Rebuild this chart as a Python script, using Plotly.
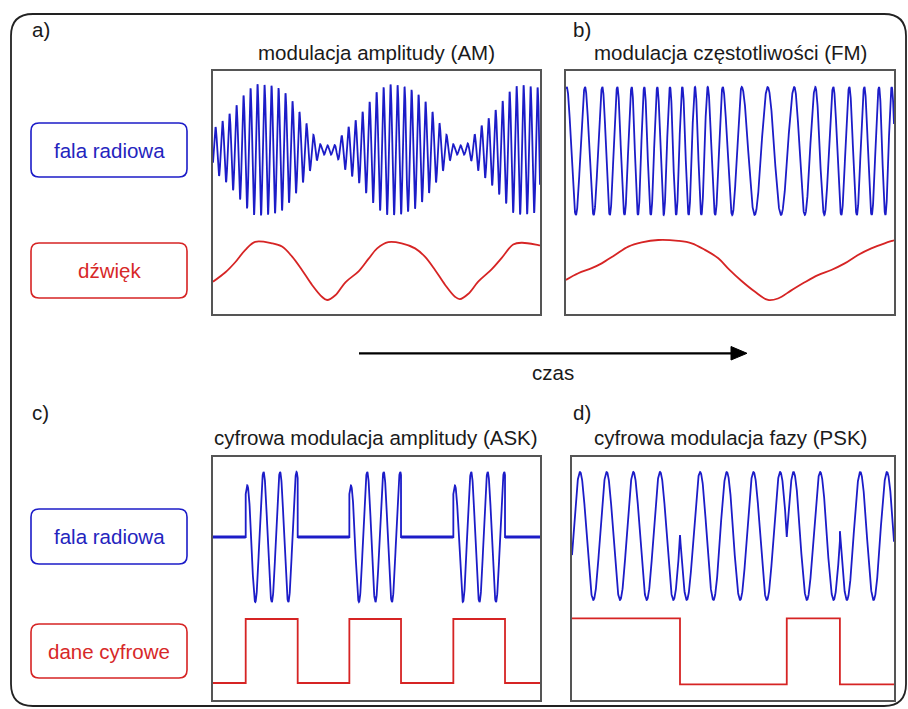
import numpy as np
import plotly.graph_objects as go

W, H = 908, 709

# ---------------- data ----------------
# time runs 0..10 across each panel
# (a) AM: sound (message) samples
am_msg_t = [0.0, 0.38, 0.68, 0.99, 1.29, 1.80, 2.11, 2.42, 2.72, 3.03, 3.33, 3.49,
            3.74, 4.05, 4.46, 4.76, 5.02, 5.36, 5.77, 6.18, 6.48, 6.79, 7.10, 7.40,
            7.55, 7.81, 8.11, 8.52, 8.83, 9.18, 9.44, 9.95, 10.0]
am_msg_v = [-0.38, -0.06, 0.28, 0.70, 0.97, 0.92, 0.81, 0.47, 0.02, -0.49, -0.89, -1.00,
            -0.84, -0.40, -0.02, 0.40, 0.75, 0.96, 0.92, 0.75, 0.47, 0.02, -0.49, -0.89,
            -0.97, -0.79, -0.38, 0.04, 0.43, 0.88, 0.94, 0.86, 0.85]
am_carrier_cycles = 46.7      # carrier cycles across the panel
am_first_peak = 0.076         # time of first carrier peak
am_floor = 0.07               # residual amplitude where the envelope vanishes

# (b) FM: sound samples and the times of the radio-wave peaks
fm_msg_t = [0.0, 0.375, 0.784, 1.088, 1.494, 1.899, 2.308, 2.814, 3.424, 3.832, 4.238,
            4.643, 4.97, 5.345, 5.753, 6.159, 6.463, 6.869, 7.277, 7.683, 8.088, 8.497,
            8.902, 9.308, 9.716, 9.97, 10.0]
fm_msg_v = [-0.33, -0.11, 0.06, 0.22, 0.50, 0.78, 0.92, 1.00, 0.97, 0.89, 0.67, 0.39,
            0.02, -0.36, -0.72, -1.00, -0.95, -0.68, -0.41, -0.17, 0.0, 0.22, 0.50,
            0.72, 0.89, 0.98, 0.99]
fm_peak_t = [0.021, 0.579, 1.107, 1.564, 2.003, 2.387, 2.784, 3.171, 3.546, 3.933,
             4.320, 4.777, 5.357, 6.149, 6.960, 7.601, 8.149, 8.637, 9.095, 9.543, 9.930]

# (c) ASK: bit edges and bit values
ask_edges = [0.0, 1.00, 2.59, 4.17, 5.75, 7.35, 8.93, 10.0]
ask_bits = [0, 1, 0, 1, 0, 1, 0]
ask_period = 0.505
ask_peak_offset = 0.04
ask_first_peak = 0.75

# (d) PSK: bit edges and bit values
psk_edges = [0.0, 3.354, 6.67, 8.32, 10.0]
psk_bits = [1, 0, 1, 0]
psk_period = 0.829
psk_t0 = 0.04

# text
panel_letters = ["a)", "b)", "c)", "d)"]
panel_titles = ["modulacja amplitudy (AM)", "modulacja częstotliwości (FM)",
                "cyfrowa modulacja amplitudy (ASK)", "cyfrowa modulacja fazy (PSK)"]
side_labels = ["fala radiowa", "dźwięk", "fala radiowa", "dane cyfrowe"]
time_label = "czas"

BLUE = "rgb(28,28,200)"
RED = "rgb(214,36,36)"
BLUE_TXT = "rgb(36,36,190)"
RED_TXT = "rgb(215,40,40)"
FONT = "Liberation Sans, Arial, sans-serif"
FS = 20.5

# ---------------- derived waveforms ----------------
# AM
ta = np.linspace(0, 10, 4000)
msg_a = np.interp(ta, am_msg_t, am_msg_v)
env_a = np.maximum(am_floor, (1 + msg_a) / 2)
blue_a = env_a * np.cos(2 * np.pi * am_carrier_cycles / 10 * (ta - am_first_peak))

# FM
pk = list(fm_peak_t)
pk = [pk[0] - (pk[1] - pk[0])] + pk + [pk[-1] + (pk[-1] - pk[-2])]
tb = np.linspace(0, 10, 3000)
phase_b = np.interp(tb, pk, np.arange(len(pk)))
blue_b = np.cos(2 * np.pi * phase_b)

# ASK
tc_list, yc_list = [], []
flat_t, flat_y = [], []
for i, b in enumerate(ask_bits):
    t0, t1 = ask_edges[i], ask_edges[i + 1]
    seg = np.linspace(t0, t1, 400)
    if b:
        amp = ask_first_peak + (1 - ask_first_peak) * np.minimum(1, (seg - t0) / (ask_period / 2))
        y = amp * np.cos(2 * np.pi * (seg - t0 - ask_peak_offset) / ask_period)
    else:
        y = np.zeros_like(seg)
        flat_t += [t0, t1, None]
        flat_y += [0, 0, None]
    tc_list.append(seg)
    yc_list.append(y)
tc = np.concatenate(tc_list)
blue_c = np.concatenate(yc_list)

# PSK
td_list, yd_list = [], []
for i, b in enumerate(psk_bits):
    t0, t1 = psk_edges[i], psk_edges[i + 1]
    seg = np.linspace(t0, t1, 600)
    s = 1 if b else -1
    td_list.append(seg)
    yd_list.append(s * np.sin(2 * np.pi * (seg - psk_t0) / psk_period))
td = np.concatenate(td_list)
blue_d = np.concatenate(yd_list)

# ---------------- figure ----------------
fig = go.Figure()

def px(x):
    return x / W

def py(y):
    return 1 - y / H

panels = [  # x0, x1, y0, y1 (pixels), blue range, red range
    (213, 540, 71, 314, [-2.448, 1.179], [-1.475, 6.763]),
    (566, 894, 71, 314, [-2.547, 1.25], [-1.467, 6.633]),
    (213, 540, 457, 700, [-2.508, 1.231], [-0.266, 3.531]),
    (572, 894, 457, 700, [-2.5625, 1.234], [-0.238, 3.444]),
]

blue_series = [(ta, blue_a), (tb, blue_b), (tc, blue_c), (td, blue_d)]
red_series = [
    dict(x=am_msg_t, y=am_msg_v, line_shape="spline"),
    dict(x=fm_msg_t, y=fm_msg_v, line_shape="spline"),
    dict(x=ask_edges, y=ask_bits + [ask_bits[-1]], line_shape="hv"),
    dict(x=psk_edges, y=psk_bits + [psk_bits[-1]], line_shape="hv"),
]

layout = {}
for i, (x0, x1, y0, y1, br, rr) in enumerate(panels):
    n = i + 1
    xa = f"x{n}" if n > 1 else "x"
    yb = 2 * i + 1
    yr = 2 * i + 2
    ybn = f"y{yb}" if yb > 1 else "y"
    yrn = f"y{yr}"
    layout[f"xaxis{n}" if n > 1 else "xaxis"] = dict(
        domain=[px(x0), px(x1)], range=[0, 10], anchor=ybn,
        showgrid=False, zeroline=False, showticklabels=False, ticks="",
        showline=True, mirror=True, linecolor="#555555", linewidth=1.6, fixedrange=True)
    layout[f"yaxis{yb}" if yb > 1 else "yaxis"] = dict(
        domain=[py(y1), py(y0)], range=br, anchor=xa,
        showgrid=False, zeroline=False, showticklabels=False, ticks="",
        showline=True, mirror=True, linecolor="#555555", linewidth=1.6, fixedrange=True)
    layout[f"yaxis{yr}"] = dict(
        overlaying=ybn, range=rr, anchor=xa,
        showgrid=False, zeroline=False, showticklabels=False, ticks="",
        showline=False, fixedrange=True)
    bx, by = blue_series[i]
    fig.add_trace(go.Scatter(x=bx, y=by, mode="lines", xaxis=xa, yaxis=ybn,
                             line=dict(color=BLUE, width=1.8), hoverinfo="skip",
                             showlegend=False))
    if i == 2:
        # carrier-free stretches look thicker (noisy) in the original
        fig.add_trace(go.Scatter(x=flat_t, y=flat_y, mode="lines", xaxis=xa, yaxis=ybn,
                                 line=dict(color=BLUE, width=3.2), hoverinfo="skip",
                                 showlegend=False, connectgaps=False))
    rs = red_series[i]
    fig.add_trace(go.Scatter(x=rs["x"], y=rs["y"], mode="lines", xaxis=xa, yaxis=yrn,
                             line=dict(color=RED, width=1.8, shape=rs["line_shape"],
                                       smoothing=1.0 if rs["line_shape"] == "spline" else None),
                             hoverinfo="skip", showlegend=False))

def rrect(x0, y0, x1, y1, r):
    P = lambda x, y: f"{px(x):.5f},{py(y):.5f}"
    return ("M " + P(x0 + r, y0) + " L " + P(x1 - r, y0) + " Q " + P(x1, y0) + " " + P(x1, y0 + r) +
            " L " + P(x1, y1 - r) + " Q " + P(x1, y1) + " " + P(x1 - r, y1) +
            " L " + P(x0 + r, y1) + " Q " + P(x0, y1) + " " + P(x0, y1 - r) +
            " L " + P(x0, y0 + r) + " Q " + P(x0, y0) + " " + P(x0 + r, y0) + " Z")

shapes = []
# outer frame
shapes.append(dict(type="path", xref="paper", yref="paper", path=rrect(11, 14, 906, 706, 22),
                   line=dict(color="#222222", width=1.8)))
# side label boxes
label_boxes = [(31, 123, 187, 177, BLUE), (31, 243, 187, 298, RED),
               (31, 509, 187, 564, BLUE), (31, 624, 187, 678, RED)]
for (x0, y0, x1, y1, c) in label_boxes:
    shapes.append(dict(type="path", xref="paper", yref="paper", path=rrect(x0, y0, x1, y1, 8),
                       line=dict(color=c, width=1.6)))
# time arrow
shapes.append(dict(type="line", xref="paper", yref="paper", x0=px(359), y0=py(353.3),
                   x1=px(733), y1=py(353.3), line=dict(color="black", width=2.2)))
shapes.append(dict(type="path", xref="paper", yref="paper",
                   path=f"M {px(731)},{py(346.5)} L {px(747)},{py(353.3)} L {px(731)},{py(360)} Z",
                   fillcolor="black", line=dict(color="black", width=1)))

annotations = []
def txt(s, x, y, color="#1a1a1a", xanchor="center", size=FS):
    annotations.append(dict(text=s, x=px(x), y=py(y), xref="paper", yref="paper",
                            xanchor=xanchor, yanchor="middle", showarrow=False,
                            font=dict(family=FONT, size=size, color=color)))

txt(panel_letters[0], 30, 29, xanchor="left")
txt(panel_letters[1], 571, 29, xanchor="left")
txt(panel_letters[2], 30, 412, xanchor="left")
txt(panel_letters[3], 571, 412, xanchor="left")
txt(panel_titles[0], 376.5, 52)
txt(panel_titles[1], 730, 52)
txt(panel_titles[2], 376, 437)
txt(panel_titles[3], 730, 437)
txt(side_labels[0], 109, 150, BLUE_TXT)
txt(side_labels[1], 109, 270.5, RED_TXT)
txt(side_labels[2], 109, 536.5, BLUE_TXT)
txt(side_labels[3], 109, 651, RED_TXT)
txt(time_label, 553, 373)

fig.update_layout(**layout)
fig.update_layout(width=W, height=H, margin=dict(l=0, r=0, t=0, b=0),
                  paper_bgcolor="white", plot_bgcolor="white",
                  shapes=shapes, annotations=annotations, showlegend=False)

fig.write_html("out.html", config={"displayModeBar": False, "staticPlot": True},
               post_script="document.body.style.margin='0';document.body.style.overflow='hidden';")
